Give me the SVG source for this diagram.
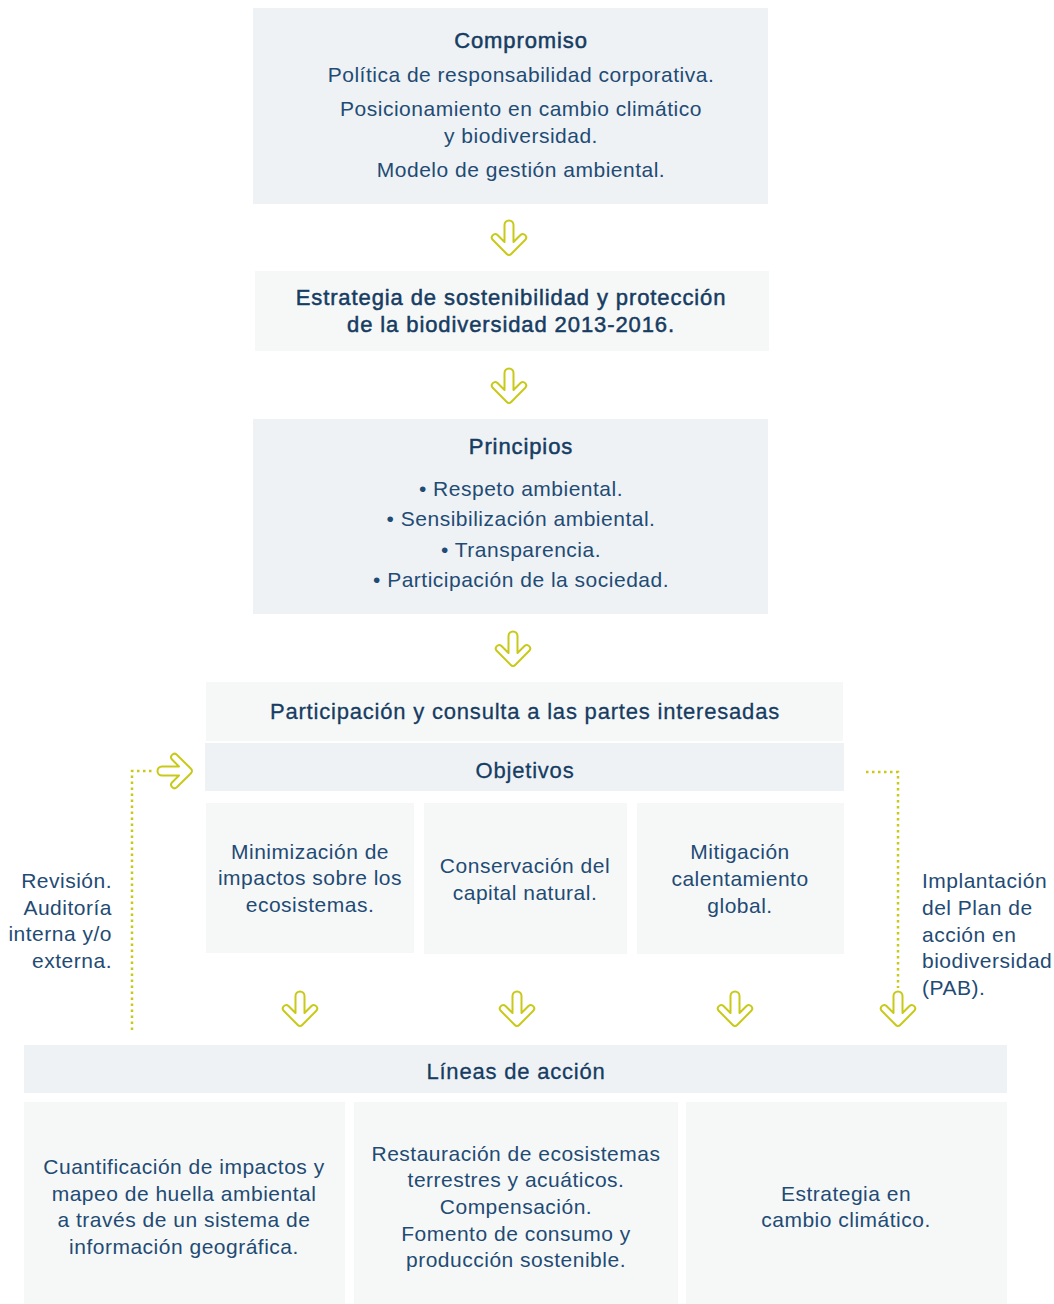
<svg xmlns="http://www.w3.org/2000/svg" width="1054" height="1304" viewBox="0 0 1054 1304">
<style>
text{font-family:"Liberation Sans",Arial,sans-serif;text-anchor:middle;}
.b{font-size:21px;letter-spacing:0.5px;fill:#1f4b74;}
.t{font-size:22px;letter-spacing:0.9px;fill:#163c62;stroke:#163c62;stroke-width:0.5px;}
.h{font-size:22px;letter-spacing:0.8px;fill:#163c62;stroke:#163c62;stroke-width:0.3px;}
.d{fill:#eef2f5;}
.l{fill:#f6f8f8;}
.r{text-anchor:end;}
.s{text-anchor:start;}
.arr{fill:none;stroke:#c9c91a;stroke-width:2;stroke-linejoin:round;}
.dot{fill:none;stroke:#c9c91a;stroke-width:2.5;stroke-dasharray:2.5 3.5;}
</style>
<defs>
<path id="ad" d="M-4.5,5 A4.5,4.5 0 0 1 4.5,5 L4.5,22 L11.5,15 A3.4,3.4 0 0 1 16.3,19.8 L2.2,34 A3,3 0 0 1 -2.2,34 L-16.3,19.8 A3.4,3.4 0 0 1 -11.5,15 L-4.5,22 Z"/>
</defs>
<rect width="1054" height="1304" fill="#ffffff"/>

<g id="compromiso">
<rect class="d" x="253" y="8" width="515" height="196"/>
<text class="t" x="521" y="48">Compromiso</text>
<text class="b" x="521" y="82">Política de responsabilidad corporativa.</text>
<text class="b" x="521" y="116">Posicionamiento en cambio climático</text>
<text class="b" x="521" y="143">y biodiversidad.</text>
<text class="b" x="521" y="177">Modelo de gestión ambiental.</text>
</g>

<g id="estrategia">
<rect class="l" x="255" y="271" width="514" height="80"/>
<text class="t" x="511" y="305">Estrategia de sostenibilidad y protección</text>
<text class="t" x="511" y="332">de la biodiversidad 2013-2016.</text>
</g>

<g id="principios">
<rect class="d" x="253" y="419" width="515" height="195"/>
<text class="t" x="521" y="454">Principios</text>
<text class="b" x="521" y="496">• Respeto ambiental.</text>
<text class="b" x="521" y="526">• Sensibilización ambiental.</text>
<text class="b" x="521" y="557">• Transparencia.</text>
<text class="b" x="521" y="587">• Participación de la sociedad.</text>
</g>

<g id="participacion">
<rect class="l" x="206" y="682" width="637" height="59"/>
<text class="h" x="525" y="719">Participación y consulta a las partes interesadas</text>
</g>

<g id="objetivos">
<rect class="d" x="205" y="743" width="639" height="48"/>
<text class="h" x="525" y="778">Objetivos</text>
</g>

<g id="obj1">
<rect class="l" x="206" y="803" width="208" height="150"/>
<text class="b" x="310" y="859">Minimización de</text>
<text class="b" x="310" y="885">impactos sobre los</text>
<text class="b" x="310" y="912">ecosistemas.</text>
</g>
<g id="obj2">
<rect class="l" x="424" y="803" width="203" height="151"/>
<text class="b" x="525" y="873">Conservación del</text>
<text class="b" x="525" y="900">capital natural.</text>
</g>
<g id="obj3">
<rect class="l" x="637" y="803" width="207" height="151"/>
<text class="b" x="740" y="859">Mitigación</text>
<text class="b" x="740" y="886">calentamiento</text>
<text class="b" x="740" y="913">global.</text>
</g>

<g id="revision">
<text class="b r" x="112" y="888">Revisión.</text>
<text class="b r" x="112" y="915">Auditoría</text>
<text class="b r" x="112" y="941">interna y/o</text>
<text class="b r" x="112" y="968">externa.</text>
</g>

<g id="implantacion">
<text class="b s" x="922" y="888">Implantación</text>
<text class="b s" x="922" y="915">del Plan de</text>
<text class="b s" x="922" y="942">acción en</text>
<text class="b s" x="922" y="968">biodiversidad</text>
<text class="b s" x="922" y="995">(PAB).</text>
</g>

<g id="lineas">
<rect class="d" x="24" y="1045" width="983" height="48"/>
<text class="h" x="516" y="1079">Líneas de acción</text>
</g>

<g id="lin1">
<rect class="l" x="24" y="1102" width="321" height="202"/>
<text class="b" x="184" y="1174">Cuantificación de impactos y</text>
<text class="b" x="184" y="1201">mapeo de huella ambiental</text>
<text class="b" x="184" y="1227">a través de un sistema de</text>
<text class="b" x="184" y="1254">información geográfica.</text>
</g>
<g id="lin2">
<rect class="l" x="354" y="1102" width="324" height="202"/>
<text class="b" x="516" y="1161">Restauración de ecosistemas</text>
<text class="b" x="516" y="1187">terrestres y acuáticos.</text>
<text class="b" x="516" y="1214">Compensación.</text>
<text class="b" x="516" y="1241">Fomento de consumo y</text>
<text class="b" x="516" y="1267">producción sostenible.</text>
</g>
<g id="lin3">
<rect class="l" x="686" y="1102" width="321" height="202"/>
<text class="b" x="846" y="1201">Estrategia en</text>
<text class="b" x="846" y="1227">cambio climático.</text>
</g>

<g id="connectors">
<use href="#ad" class="arr" transform="translate(509,220)"/>
<use href="#ad" class="arr" transform="translate(509,368)"/>
<use href="#ad" class="arr" transform="translate(513,631)"/>
<use href="#ad" class="arr" transform="translate(300,991)"/>
<use href="#ad" class="arr" transform="translate(517,991)"/>
<use href="#ad" class="arr" transform="translate(735,991)"/>
<use href="#ad" class="arr" transform="translate(898,991)"/>
<use href="#ad" class="arr" transform="translate(157,771) rotate(-90)"/>
<polyline class="dot" points="132,1030 132,771 152,771"/>
<polyline class="dot" points="866,772 898,772 898,988"/>
</g>
</svg>
